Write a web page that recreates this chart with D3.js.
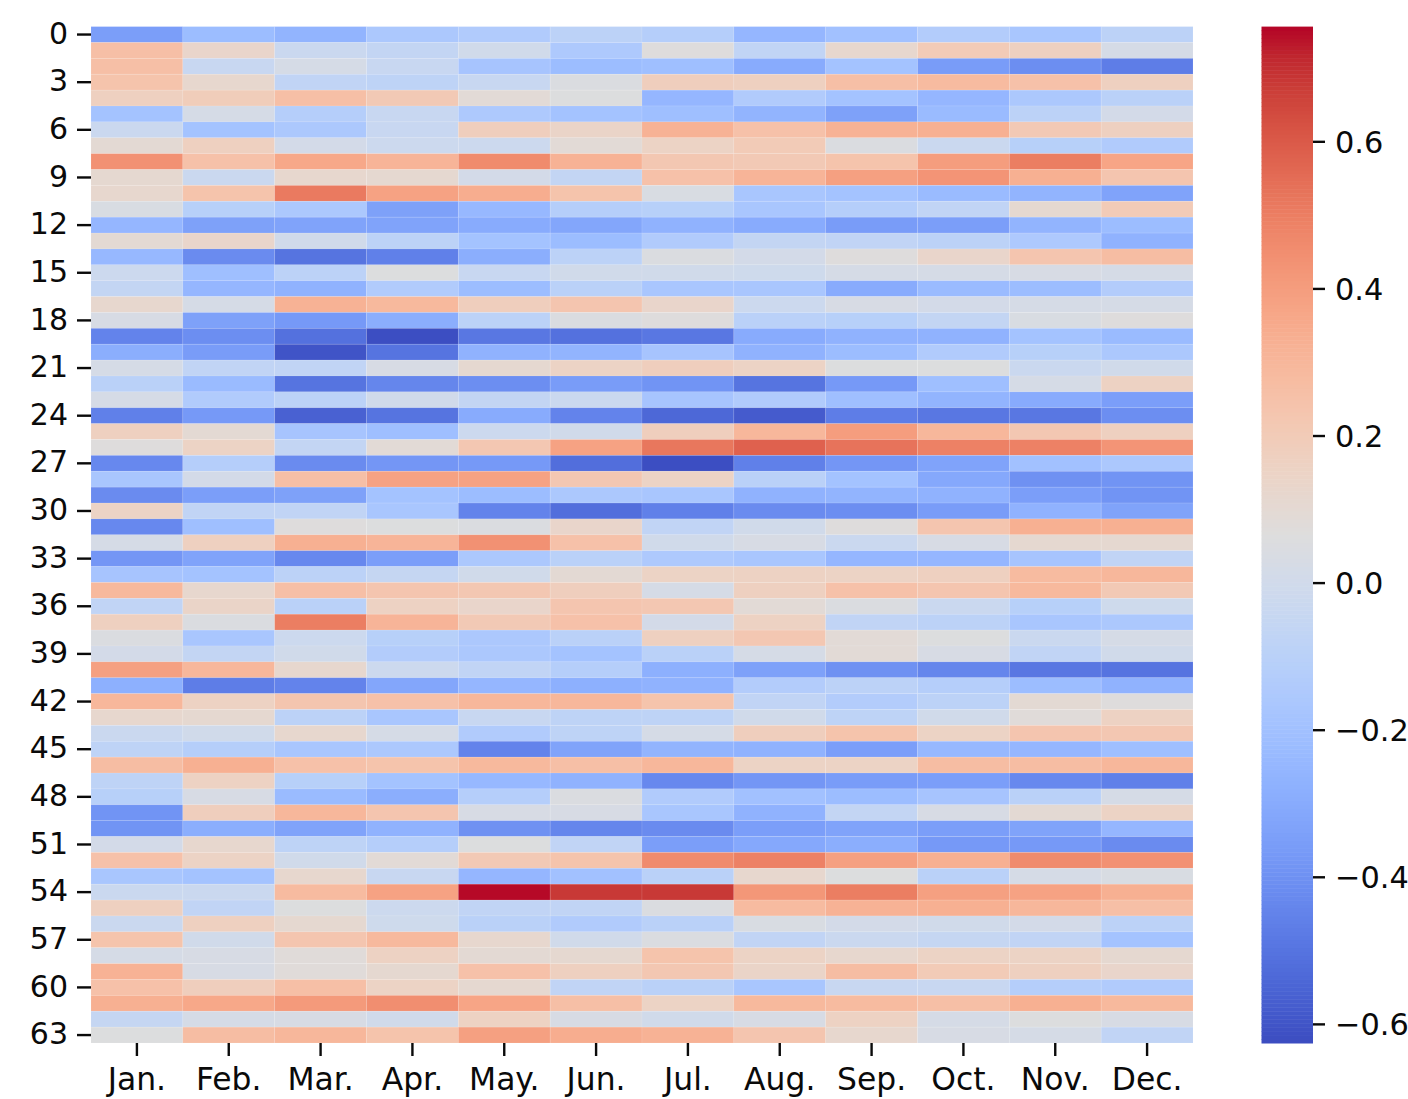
<!DOCTYPE html>
<html><head><meta charset="utf-8">
<script src="https://cdn.jsdelivr.net/npm/d3@7"></script>
<style>html,body{margin:0;padding:0;background:#fff}svg{display:block}
text{font-family:"DejaVu Sans",sans-serif;fill:#0a0a0a}</style></head>
<body><div id="chart"></div>
<script>
const months = ["Jan.","Feb.","Mar.","Apr.","May.","Jun.","Jul.","Aug.","Sep.","Oct.","Nov.","Dec."];
const rowTicks = d3.range(0,64,3);
const barTicks = [-0.6,-0.4,-0.2,0,0.2,0.4,0.6];
const valueMin = -0.626, valueMax = 0.756;
const coolwarm = [[59,76,192],[68,90,204],[77,104,215],[87,117,225],[98,130,234],[108,142,241],[119,154,247],[130,165,251],[141,176,254],[152,185,255],[163,194,255],[174,201,253],[184,208,249],[194,213,244],[204,217,238],[213,219,230],[221,221,221],[229,216,209],[236,211,197],[241,204,185],[245,196,173],[247,187,160],[247,177,148],[247,166,135],[244,154,123],[241,141,111],[236,127,99],[229,112,88],[222,96,77],[213,80,66],[203,62,56],[192,40,47],[180,4,38]];
const values = [
[-.35,-.22,-.26,-.16,-.14,-.09,-.12,-.25,-.2,-.13,-.17,-.09],
[.26,.13,-.03,-.06,0,-.15,.07,-.07,.12,.2,.17,.02],
[.26,-.04,.02,-.04,-.18,-.22,-.21,-.3,-.19,-.36,-.41,-.47],
[.24,.12,-.07,-.08,-.04,.05,.18,.17,.26,.28,.25,.17],
[.17,.19,.26,.21,.09,.06,-.25,-.14,-.19,-.25,-.16,-.1],
[-.19,.02,-.12,-.04,-.15,-.19,-.21,-.26,-.34,-.23,-.09,.01],
[-.03,-.19,-.16,-.04,.18,.14,.32,.25,.32,.33,.21,.17],
[.1,.17,.01,-.02,-.02,.09,.15,.2,.05,-.03,-.11,-.14],
[.44,.25,.36,.31,.46,.32,.22,.21,.24,.4,.5,.37],
[.11,-.03,.12,.11,.01,-.06,.25,.31,.39,.43,.33,.23],
[.12,.24,.51,.38,.34,.24,.04,-.17,-.19,-.23,-.26,-.33],
[.04,-.11,-.16,-.34,-.24,-.12,-.11,-.17,-.12,-.07,.11,.2],
[-.25,-.34,-.33,-.33,-.3,-.32,-.27,-.3,-.36,-.35,-.26,-.22],
[.1,.13,0,-.09,-.19,-.22,-.14,-.06,-.07,-.09,-.15,-.27],
[-.24,-.42,-.5,-.46,-.29,-.09,.05,.01,.07,.13,.23,.27],
[-.02,-.21,-.09,.06,-.04,0,0,-.01,.02,.02,.03,.02],
[-.06,-.25,-.27,-.14,-.22,-.1,-.17,-.17,-.3,-.23,-.22,-.13],
[.12,.02,.32,.29,.18,.23,.13,-.02,.03,.01,.02,.02],
[.03,-.34,-.37,-.29,-.09,.05,.07,-.1,-.11,-.06,.04,.07],
[-.45,-.41,-.51,-.62,-.49,-.51,-.49,-.3,-.27,-.27,-.19,-.23],
[-.29,-.36,-.6,-.5,-.27,-.26,-.18,-.27,-.22,-.14,-.11,-.16],
[.02,-.07,-.07,.03,.11,.15,.18,.15,.06,.06,-.03,0],
[-.1,-.23,-.5,-.44,-.41,-.36,-.39,-.5,-.37,-.21,.02,.16],
[.02,-.14,-.09,0,-.06,-.03,-.18,-.14,-.21,-.26,-.3,-.35],
[-.46,-.37,-.56,-.5,-.3,-.45,-.54,-.58,-.47,-.49,-.49,-.41],
[.17,.1,-.18,-.21,-.02,0,.18,.3,.4,.3,.22,.17],
[.07,.15,-.06,.09,.22,.38,.52,.58,.53,.49,.49,.43],
[-.43,-.12,-.42,-.38,-.37,-.52,-.62,-.46,-.38,-.33,-.2,-.16],
[-.17,.01,.26,.38,.38,.22,.15,-.1,-.19,-.31,-.4,-.39],
[-.42,-.35,-.34,-.19,-.22,-.16,-.17,-.27,-.26,-.27,-.35,-.39],
[.15,-.07,-.07,-.17,-.45,-.52,-.46,-.42,-.41,-.36,-.27,-.33],
[-.43,-.21,.07,.06,.05,.13,-.07,0,.07,.23,.33,.33],
[.02,.17,.33,.31,.44,.25,0,.03,-.03,.03,.11,.11],
[-.38,-.33,-.43,-.35,-.16,-.1,-.15,-.17,-.25,-.25,-.18,-.07],
[-.18,-.19,-.09,-.05,0,.1,.15,.16,.15,.17,.28,.3],
[.29,.12,.26,.23,.22,.18,.02,.17,.25,.23,.29,.21],
[-.07,.14,-.1,.16,.13,.23,.22,.09,.05,-.03,-.11,-.01],
[.17,.05,.5,.31,.21,.25,.01,.16,-.07,-.09,-.17,-.16],
[.05,-.17,-.02,-.11,-.16,-.1,.17,.22,.09,.06,-.03,.02],
[.01,-.06,0,-.13,-.16,-.19,-.1,.02,.09,.03,-.07,0],
[.39,.3,.12,-.02,-.07,-.12,-.28,-.34,-.4,-.44,-.49,-.5],
[-.28,-.47,-.45,-.32,-.25,-.28,-.27,-.13,-.09,-.12,-.22,-.27],
[.3,.16,.23,.25,.3,.3,.24,-.07,-.13,-.09,.1,.07],
[.12,.11,-.09,-.17,-.04,-.08,-.08,0,-.08,0,.08,.16],
[-.03,0,.12,.02,-.14,-.08,.02,.18,.24,.15,.23,.22],
[-.08,-.12,-.17,-.16,-.45,-.33,-.26,-.27,-.35,-.24,-.25,-.21],
[.27,.33,.25,.24,.29,.26,.3,.15,.15,.27,.27,.3],
[-.08,.16,-.11,-.19,-.24,-.27,-.43,-.38,-.36,-.35,-.43,-.46],
[-.11,.03,-.23,-.29,-.12,.05,-.14,-.2,-.22,-.18,-.1,.02],
[-.39,.18,.3,.23,.03,.03,-.17,-.27,-.06,.03,.1,.15],
[-.39,-.29,-.33,-.27,-.4,-.44,-.42,-.35,-.33,-.35,-.33,-.25],
[.01,.12,-.08,-.12,.06,-.07,-.35,-.31,-.29,-.37,-.37,-.42],
[.25,.15,0,.09,.21,.24,.46,.49,.39,.33,.46,.44],
[-.17,-.19,.12,-.04,-.25,-.2,-.1,.12,.06,-.1,.02,.04],
[-.03,-.03,.28,.38,.75,.68,.68,.42,.5,.39,.38,.33],
[.17,-.07,.06,-.02,-.07,-.07,.05,.28,.32,.33,.3,.26],
[-.03,.17,.11,-.01,-.1,-.14,-.1,.04,.01,0,.01,-.09],
[.24,0,.23,.29,.12,0,.05,-.07,-.03,-.05,-.07,-.19],
[.02,.03,.08,.16,.1,.11,.24,.15,.12,.15,.15,.11],
[.32,.03,.08,.11,.25,.17,.22,.14,.27,.2,.17,.13],
[.25,.18,.26,.15,.11,-.07,-.1,-.17,-.04,-.04,-.12,-.14],
[.33,.36,.41,.45,.37,.26,.15,.29,.28,.26,.33,.29],
[-.05,.02,.03,0,.16,.03,0,.03,.16,.02,.06,.03],
[.06,.27,.3,.24,.39,.34,.32,.23,.12,.03,.02,-.07]
];

const W = 1408, H = 1099;
const plot = {x0:91, x1:1193, y0:26.6, y1:1043};
const bar = {x0:1261.5, x1:1313};

const x = d3.scaleBand().domain(months).range([plot.x0, plot.x1]).padding(0);
const y = d3.scaleBand().domain(d3.range(values.length)).range([plot.y0, plot.y1]).padding(0);
const color = d3.scaleLinear()
  .domain(coolwarm.map((_, i) => valueMin + (valueMax - valueMin) * i / (coolwarm.length - 1)))
  .range(coolwarm.map(c => d3.rgb(c[0], c[1], c[2]))).interpolate(d3.interpolateRgb).clamp(true);
const barY = d3.scaleLinear().domain([valueMin, valueMax]).range([plot.y1, plot.y0]);

const svg = d3.select("#chart").append("svg").attr("width", W).attr("height", H);

const cells = values.flatMap((row, r) => row.map((v, c) => ({r, c, v})));
svg.append("g").attr("class","cells").selectAll("rect").data(cells).join("rect")
  .attr("x", d => x(months[d.c]))
  .attr("y", d => y(d.r))
  .attr("width", x.bandwidth())
  .attr("height", y.bandwidth())
  .attr("fill", d => color(d.v))
  .attr("stroke", "rgba(255,255,255,0.12)")
  .attr("stroke-width", 0.8);

function styleAxis(size, dy){
  return g => {
    g.select(".domain").remove();
    g.selectAll(".tick line").attr("stroke","#0a0a0a").attr("stroke-width",2.4);
    g.selectAll(".tick text").style("font-size",size+"px").attr("fill","#0a0a0a")
      .attr("transform",`translate(0,${dy})`);
  };
}
svg.append("g").attr("transform",`translate(${plot.x0},0)`)
  .call(d3.axisLeft(y).tickValues(rowTicks).tickSize(14).tickPadding(9)).call(styleAxis(30,-0.5));
svg.append("g").attr("transform",`translate(0,${plot.y1})`)
  .call(d3.axisBottom(x).tickSize(13).tickPadding(9)).call(styleAxis(31.4,3));

const steps = d3.range(0, 256);
const stepH = (plot.y1 - plot.y0) / steps.length;
svg.append("g").attr("class","colorbar").selectAll("rect").data(steps).join("rect")
  .attr("x", bar.x0).attr("width", bar.x1 - bar.x0)
  .attr("y", i => barY(valueMin + (valueMax - valueMin) * (i + 1) / steps.length))
  .attr("height", stepH + 0.5)
  .attr("fill", i => color(valueMin + (valueMax - valueMin) * (i + 0.5) / steps.length));
svg.append("g").attr("transform",`translate(${bar.x1},0)`)
  .call(d3.axisRight(barY).tickValues(barTicks).tickSize(12).tickPadding(10)
    .tickFormat(d => d3.format(".1f")(d).replace("-", "\u2212"))).call(styleAxis(30.4,1));
</script></body></html>
